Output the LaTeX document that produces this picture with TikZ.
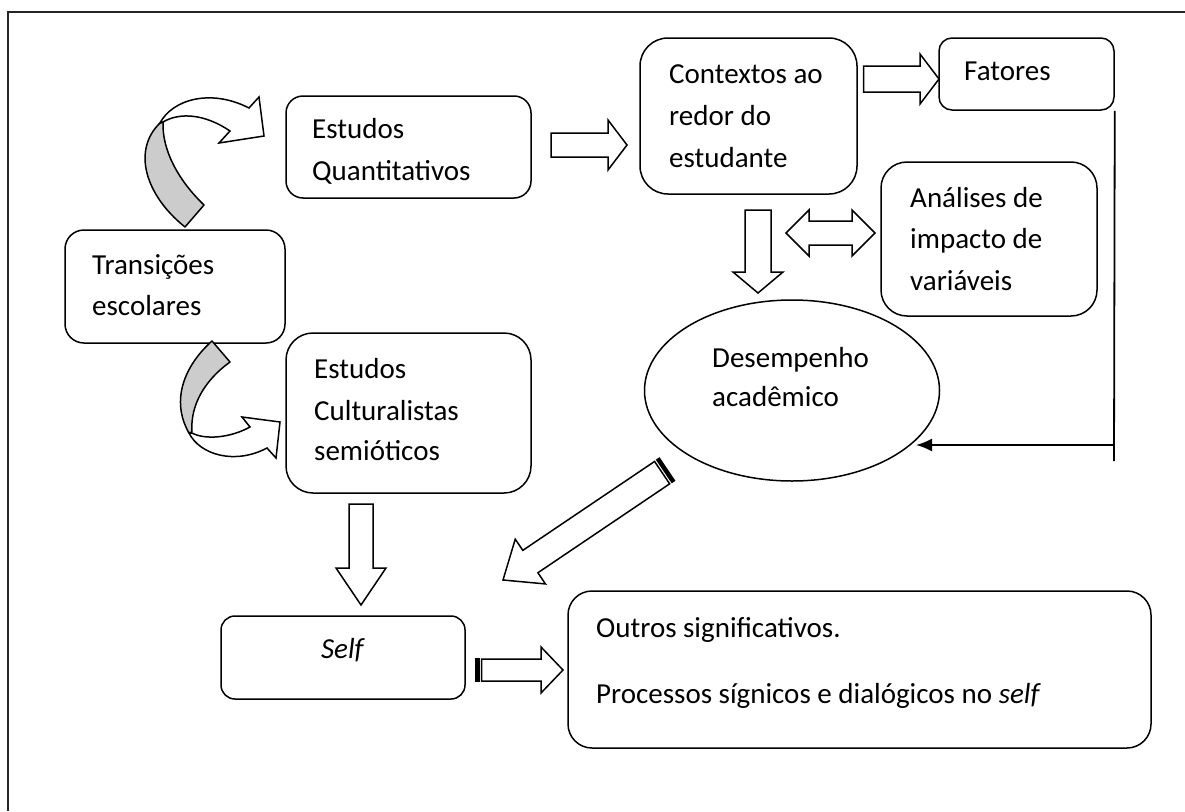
\documentclass[tikz,border=0pt]{standalone}
\usepackage{fontspec}
\setmainfont{Carlito}
\usetikzlibrary{calc,arrows.meta,shapes.geometric}

\tikzset{
  outline/.style={draw=black, line width=1.5pt},
  rbox/.style={outline, rectangle, rounded corners=#1, inner sep=0pt},
  oval/.style={outline, ellipse, inner sep=0pt},
  txt/.style={anchor=base west, inner sep=0pt, font=\fontsize{29}{41}\selectfont},
  blockarrow/.style={outline, fill=white, line join=miter},
  ribbonback/.style={outline, fill=black!20, line join=round},
  ribbonfront/.style={outline, fill=white, line join=miter},
  stripe/.style={fill=black},
  feedback/.style={line width=1.8pt, -{Latex[length=16pt,width=13pt]}},
  frameline/.style={line width=2pt, draw=black!85},
}

% block arrow: tail, tip, shaft half-width, head half-width, head length
\newcommand\BlockArrow[5]{%
  \coordinate (ba-h) at ($(#2)!#5!(#1)$);
  \draw[blockarrow] ($(#1)!#3!90:(#2)$) -- ($(ba-h)!#3!-90:(#1)$)
    -- ($(ba-h)!#4!-90:(#1)$) -- (#2) -- ($(ba-h)!#4!90:(#1)$)
    -- ($(ba-h)!#3!90:(#1)$) -- ($(#1)!#3!-90:(#2)$) -- cycle;}

% two-headed block arrow: end, end, shaft half-width, head half-width, head length
\newcommand\DoubleArrow[5]{%
  \coordinate (da-a) at ($(#1)!#5!(#2)$);
  \coordinate (da-b) at ($(#2)!#5!(#1)$);
  \draw[blockarrow] (#1) -- ($(da-a)!#4!90:(#2)$) -- ($(da-a)!#3!90:(#2)$)
    -- ($(da-b)!#3!-90:(#1)$) -- ($(da-b)!#4!-90:(#1)$) -- (#2)
    -- ($(da-b)!#4!90:(#1)$) -- ($(da-b)!#3!90:(#1)$)
    -- ($(da-a)!#3!-90:(#2)$) -- ($(da-a)!#4!-90:(#2)$) -- cycle;}

% block arrow with a black stripe at its tail
\newcommand\StripedArrow[5]{%
  \coordinate (sa-1) at ($(#1)!4.5pt!(#2)$);
  \coordinate (sa-2) at ($(#1)!6.5pt!(#2)$);
  \fill[stripe] ($(#1)!#3+0.75pt!90:(#2)$) -- ($(sa-1)!#3+0.75pt!-90:(#1)$)
    -- ($(sa-1)!#3+0.75pt!90:(#1)$) -- ($(#1)!#3+0.75pt!-90:(#2)$) -- cycle;
  \BlockArrow{sa-2}{#2}{#3}{#4}{#5}}

\begin{document}
\begin{tikzpicture}[x=1pt, y=-1pt]
\useasboundingbox (0,0) rectangle (1185,811);

% page frame
\draw[frameline] (8,811) -- (8,12) -- (1185,12);

% boxes
\node[rbox=17pt, minimum width=245pt, minimum height=102pt] (eq)   at (408.5,147)   {};
\node[rbox=28pt, minimum width=217pt, minimum height=156pt] (ctx)  at (748.5,116)   {};
\node[rbox=13pt, minimum width=175pt, minimum height=72pt]  (fat)  at (1026.5,74)   {};
\node[rbox=26pt, minimum width=216pt, minimum height=154pt] (ana)  at (989,239)     {};
\node[rbox=19pt, minimum width=220pt, minimum height=113pt] (tra)  at (175,286.5)   {};
\node[rbox=27pt, minimum width=245pt, minimum height=160pt] (cul)  at (408.5,413)   {};
\node[rbox=14pt, minimum width=244pt, minimum height=83pt]  (self) at (343,657.5)   {};
\node[rbox=24pt, minimum width=583pt, minimum height=157pt] (out)  at (859.5,669.5) {};
\node[oval, minimum width=295pt, minimum height=181pt]      (des)  at (792,390.5)   {};

% labels
\node[txt] (eq1) at (312,138) {Estudos};
\node[txt] (eq2) at (312,180) {Quantitativos};
\node[txt] (ctx1) at (669,83)  {Contextos ao};
\node[txt] (ctx2) at (669,125) {redor do};
\node[txt] (ctx3) at (669,167) {estudante};
\node[txt] (fat1) at (964,80) {Fatores};
\node[txt] (ana1) at (910,207) {Análises de};
\node[txt] (ana2) at (910,248) {impacto de};
\node[txt] (ana3) at (910,290) {variáveis};
\node[txt] (tra1) at (92,274) {Transições};
\node[txt] (tra2) at (92,315) {escolares};
\node[txt] (cul1) at (314,378) {Estudos};
\node[txt] (cul2) at (314,420) {Culturalistas};
\node[txt] (cul3) at (314,460) {semióticos};
\node[txt] (des1) at (712,367) {Desempenho};
\node[txt] (des2) at (712,406) {acadêmico};
\node[txt, anchor=base] (self1) at (343,658) {\textit{Self}};
\node[txt] (out1) at (596,637) {Outros significativos.};
\node[txt] (out2) at (596,703) {Processos sígnicos e dialógicos no \textit{self}};

% curved ribbon arrow: Transições -> Estudos Quantitativos
\draw[ribbonback] (185,227) .. controls (145,195) and (132,150) .. (160,123)
  -- (163,122) .. controls (162,150) and (178,180) .. (204,205) -- cycle;
\draw[ribbonfront] (160,123) .. controls (172,100) and (210,88) .. (249,108)
  -- (259,97) -- (264,136) -- (219,143) -- (230,131)
  .. controls (205,114) and (180,112) .. (163,122) -- cycle;

% curved ribbon arrow: Transições -> Estudos Culturalistas
\draw[ribbonback] (212,341) -- (230,362) .. controls (205,380) and (190,405) .. (192,432)
  -- (189,433) .. controls (170,400) and (185,365) .. (212,341) -- cycle;
\draw[ribbonfront] (189,433) .. controls (200,455) and (235,465) .. (267,448)
  -- (276,458) -- (280,422) -- (242,417) -- (250,427)
  .. controls (230,438) and (205,440) .. (192,433) -- cycle;

% block arrows
\coordinate (a1s) at (551,145);   \coordinate (a1e) at (627,145);
\BlockArrow{a1s}{a1e}{12pt}{25pt}{19pt}
\coordinate (a2s) at (863.5,79);  \coordinate (a2e) at (939,79);
\BlockArrow{a2s}{a2e}{13pt}{25pt}{19pt}
\coordinate (a3s) at (758,210);   \coordinate (a3e) at (758,293);
\BlockArrow{a3s}{a3e}{13pt}{25pt}{21pt}
\coordinate (a4s) at (786,233);   \coordinate (a4e) at (875,233);
\DoubleArrow{a4s}{a4e}{12pt}{23pt}{23pt}
\coordinate (a5s) at (361,504);   \coordinate (a5e) at (361,605);
\BlockArrow{a5s}{a5e}{12pt}{25pt}{37pt}
\coordinate (a6s) at (667.5,469); \coordinate (a6e) at (503,580);
\StripedArrow{a6s}{a6e}{13.5pt}{27pt}{33pt}
\coordinate (a7s) at (475,670);   \coordinate (a7e) at (563,670);
\StripedArrow{a7s}{a7e}{11pt}{23pt}{22pt}

% feedback line from Fatores to Desempenho
\coordinate (vbot) at (1114,461);
\coordinate (vjoin) at (1114,445);
\coordinate (destip) at (916,445);
\draw[line width=1.8pt] (fat.south east) -- (vbot);
\draw[feedback] (vjoin) -- (destip);
\end{tikzpicture}
\end{document}
